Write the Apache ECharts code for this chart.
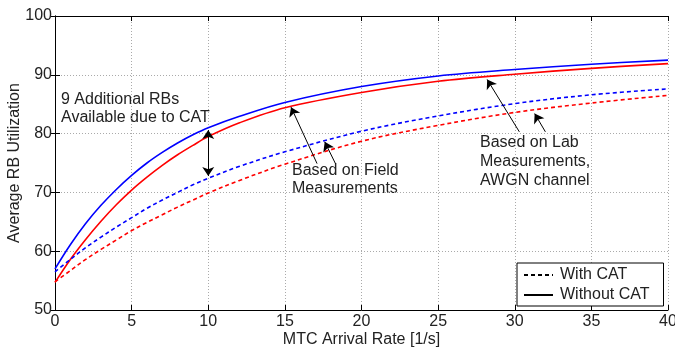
<!DOCTYPE html>
<html>
<head>
<meta charset="utf-8">
<script src="https://cdn.jsdelivr.net/npm/echarts@6/dist/echarts.min.js"></script>
<style>
html, body { margin: 0; padding: 0; background: #fff; }
#chart { width: 675px; height: 352px; }
</style>
</head>
<body>
<div id="chart"></div>
<script>
// values
var xs = [0, 1, 2, 3, 4, 5, 6, 7, 8, 9, 10, 12, 15, 20, 25, 30, 35, 40];
var blueSolid = [57.0, 61.1, 64.7, 67.8, 70.5, 72.9, 75.0, 76.8, 78.4, 79.8, 81.0, 82.9, 85.3, 88.0, 89.8, 90.9, 91.8, 92.5];
var redSolid = [54.7, 58.6, 62.0, 65.1, 67.9, 70.4, 72.6, 74.6, 76.4, 78.0, 79.5, 81.8, 84.4, 87.0, 88.9, 90.1, 91.1, 91.9];
var blueDashed = [56.5, 58.6, 60.6, 62.4, 64.1, 65.7, 67.3, 68.7, 70.0, 71.3, 72.4, 74.4, 76.9, 80.4, 83.0, 85.1, 86.6, 87.6];
var redDashed = [54.8, 56.7, 58.6, 60.3, 61.9, 63.5, 64.9, 66.2, 67.5, 68.7, 69.9, 72.0, 74.8, 78.7, 81.4, 83.6, 85.2, 86.5];
var legendNames = ['With CAT', 'Without CAT'];

// arrows: [tail, tip] in data coordinates
var arrows = [
    [[17.1, 74.9], [15.4, 84.5]],
    [[18.3, 74.9], [17.6, 78.6]],
    [[30.3, 80.3], [28.2, 89.2]],
    [[32.0, 80.3], [31.3, 83.4]]
];
var gapArrow = [[10, 80.6], [10, 72.8]];

function pairs(arr) {
    return xs.map(function (x, i) { return [x, arr[i]]; });
}

var font = '"Liberation Sans", Arial, sans-serif';
var txt = '#222';

var chart = echarts.init(document.getElementById('chart'));

function lineSeries(name, data, color, type) {
    return {
        name: name,
        type: 'line',
        data: pairs(data),
        smooth: 0.35,
        symbol: 'none',
        silent: true,
        lineStyle: { color: color, width: 1.6, type: type }
    };
}

var option = {
    animation: false,
    textStyle: { fontFamily: font },
    grid: { left: 55, right: 7, top: 16, bottom: 42, containLabel: false, outerBoundsMode: 'none' },
    legend: {
        data: legendNames,
        orient: 'vertical',
        left: 517,
        top: 263,
        padding: [4, 14, 3, 6],
        itemGap: 4,
        itemWidth: 29,
        itemHeight: 12,
        backgroundColor: '#fff',
        borderColor: '#000',
        borderWidth: 1,
        selectedMode: false,
        itemStyle: { opacity: 0 },
        textStyle: { color: txt, fontSize: 16, fontFamily: font, padding: [0, 0, 0, 2] }
    },
    xAxis: [{
        type: 'value',
        min: 0, max: 40, interval: 5,
        name: 'MTC Arrival Rate [1/s]',
        nameLocation: 'middle',
        nameGap: 22,
        nameMoveOverlap: false,
        nameTextStyle: { color: txt, fontSize: 16, verticalAlign: 'top' },
        axisLine: { show: true, lineStyle: { color: '#000', width: 1 } },
        axisTick: { show: true, inside: true, length: 5, lineStyle: { color: '#000' } },
        axisLabel: { color: txt, fontSize: 16, margin: 4 },
        splitLine: { show: true, lineStyle: { color: '#aaa', type: [1, 2] } }
    }, {
        type: 'value',
        position: 'top',
        min: 0, max: 40, interval: 5,
        axisLine: { show: true, lineStyle: { color: '#000', width: 1 } },
        axisTick: { show: true, inside: true, length: 5, lineStyle: { color: '#000' } },
        axisLabel: { show: false },
        splitLine: { show: false }
    }],
    yAxis: [{
        type: 'value',
        min: 50, max: 100, interval: 10,
        name: 'Average RB Utilization',
        nameLocation: 'middle',
        nameGap: 32,
        nameMoveOverlap: false,
        nameTextStyle: { color: txt, fontSize: 16 },
        axisLine: { show: true, lineStyle: { color: '#000', width: 1 } },
        axisTick: { show: true, inside: true, length: 5, lineStyle: { color: '#000' } },
        axisLabel: { color: txt, fontSize: 16, margin: 3 },
        splitLine: { show: true, lineStyle: { color: '#aaa', type: [1, 2] } }
    }, {
        type: 'value',
        position: 'right',
        min: 50, max: 100, interval: 10,
        axisLine: { show: true, lineStyle: { color: '#000', width: 1 } },
        axisTick: { show: true, inside: true, length: 5, lineStyle: { color: '#000' } },
        axisLabel: { show: false },
        splitLine: { show: false }
    }],
    series: [
        lineSeries('Blue without CAT', blueSolid, '#0000ff', 'solid'),
        lineSeries('Red without CAT', redSolid, '#ff0000', 'solid'),
        lineSeries('Blue with CAT', blueDashed, '#0000ff', [4, 3]),
        lineSeries('Red with CAT', redDashed, '#ff0000', [4, 3]),
        {
            name: 'With CAT', type: 'line', data: [], symbol: 'none',
            itemStyle: { color: '#000' },
            lineStyle: { color: '#000', width: 1.2, type: [4, 3] }
        },
        {
            name: 'Without CAT', type: 'line', data: [], symbol: 'none',
            itemStyle: { color: '#000' },
            lineStyle: { color: '#000', width: 1.2, type: 'solid' }
        },
        {
            name: 'arrows', type: 'line', data: [], silent: true,
            markLine: {
                silent: true,
                symbol: ['none', 'arrow'],
                symbolSize: 9,
                label: { show: false },
                lineStyle: { color: '#000', width: 1, type: 'solid' },
                emphasis: { disabled: true },
                data: arrows.map(function (a) {
                    return [{ coord: a[0] }, { coord: a[1] }];
                }).concat([[{ coord: gapArrow[0], symbol: 'arrow' }, { coord: gapArrow[1], symbol: 'arrow' }]])
            }
        }
    ],
    graphic: [
        {
            type: 'text', left: 61, top: 91,
            style: { text: '9 Additional RBs\nAvailable due to CAT', fill: txt, font: '16px ' + font, lineHeight: 18 }
        },
        {
            type: 'text', left: 292, top: 162,
            style: { text: 'Based on Field\nMeasurements', fill: txt, font: '16px ' + font, lineHeight: 18 }
        },
        {
            type: 'text', left: 480, top: 133,
            style: { text: 'Based on Lab\nMeasurements,\nAWGN channel', fill: txt, font: '16px ' + font, lineHeight: 19 }
        }
    ]
};

chart.setOption(option);
</script>
</body>
</html>
